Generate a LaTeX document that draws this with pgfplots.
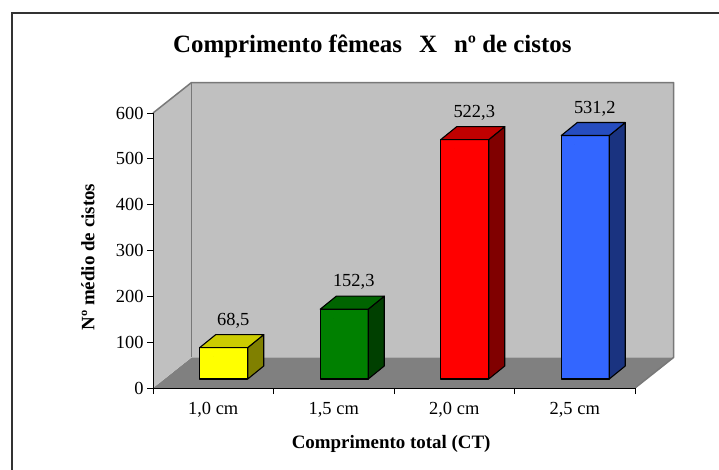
\documentclass[border=0pt]{standalone}
\usepackage{pgfplots}
\pgfplotsset{compat=1.18}
\usepackage{fontspec}
\setmainfont{Liberation Serif}
\definecolor{wallgray}{RGB}{192,192,192}
\definecolor{floorgray}{RGB}{128,128,128}
\definecolor{edgegray}{RGB}{120,120,120}
\definecolor{yfront}{RGB}{255,255,0}
\definecolor{yside}{RGB}{128,128,0}
\definecolor{ytop}{RGB}{204,204,0}
\definecolor{gfront}{RGB}{0,128,0}
\definecolor{gside}{RGB}{0,64,0}
\definecolor{gtop}{RGB}{0,100,0}
\definecolor{rfront}{RGB}{255,0,0}
\definecolor{rside}{RGB}{128,0,0}
\definecolor{rtop}{RGB}{192,0,0}
\definecolor{bfront}{RGB}{51,102,255}
\definecolor{bside}{RGB}{26,51,128}
\definecolor{btop}{RGB}{38,77,192}
\pgfplotsset{
  bar3d/.style n args={3}{
    only marks, scatter, mark=*, mark size=0pt,
    visualization depends on={rawy \as \barval},
    scatter/@pre marker code/.code={%
      \pgfmathsetmacro\barh{\barval*0.458333}%
      \filldraw[fill=#1, draw=black, line width=1.1bp, line join=round] (-13.5bp,{9bp-\barh bp}) rectangle (34.5bp,9bp);
      \filldraw[fill=#2, draw=black, line width=1.1bp, line join=round] (34.5bp,{9bp-\barh bp}) -- (50.5bp,{22bp-\barh bp}) -- (50.5bp,22bp) -- (34.5bp,9bp) -- cycle;
      \filldraw[fill=#3, draw=black, line width=1.1bp, line join=round] (-13.5bp,9bp) -- (34.5bp,9bp) -- (50.5bp,22bp) -- (2.5bp,22bp) -- cycle;
      \begin{scope}},
    scatter/@post marker code/.code={\end{scope}},
  },
  barlabel/.style={
    only marks, mark=none,
    nodes near coords={\pgfmathprintnumber[fixed,fixed zerofill,precision=1,use comma]{\pgfplotspointmeta}},
    every node near coord/.append style={anchor=center, xshift=20bp, yshift=36bp, text=black,
      font=\fontsize{18.5}{20}\selectfont},
  }
}
\begin{document}
\begin{tikzpicture}
\draw[line width=2bp, draw=black!80] (12bp,-20bp) -- (12bp,457bp) -- (740bp,457bp);
\begin{axis}[
  at={(153bp,82bp)}, anchor=south west,
  x=120.5bp, y=0.458333bp,
  xmin=0, xmax=4, ymin=0, ymax=600,
  clip=false, axis on top,
  axis x line*=bottom, axis y line*=left,
  axis line style={line width=1bp, black},
  tick style={line width=1bp, black},
  tick align=outside, major tick length=6bp,
  /pgf/number format/assume math mode=true,
  xtick={0,1,2,3,4}, xticklabels={},
  extra x ticks={0.5,1.5,2.5,3.5},
  extra x tick labels={{1,0 cm},{1,5 cm},{2,0 cm},{2,5 cm}},
  extra x tick style={major tick length=0pt, tick label style={yshift=-11bp}},
  ytick={0,100,...,600},
  ticklabel style={font=\fontsize{18.5}{20}\selectfont},
  title={Comprimento fêmeas\hspace{17bp}X\hspace{17bp}nº de cistos},
  title style={font=\bfseries\fontsize{25}{28}\selectfont, at={(axis description cs:0.455,1.222)}, anchor=center},
  xlabel={Comprimento total (CT)},
  ylabel={Nº médio de cistos},
  ylabel style={font=\bfseries\fontsize{19}{21}\selectfont, at={(axis description cs:-0.135,0.476)}, anchor=center},
  xlabel style={font=\bfseries\fontsize{19}{21}\selectfont, at={(axis description cs:0.494,-0.203)}, anchor=center},
]
\fill[floorgray] (0,0) -- (4,0) -- (4.3195,66.55) -- (0.3195,66.55) -- cycle;
\fill[wallgray] (0,0) -- (0.3195,66.55) -- (0.3195,666.55) -- (0,600) -- cycle;
\fill[wallgray] (0.3195,66.55) rectangle (4.3195,666.55);
\draw[edgegray, line width=1.5bp, line join=round] (0,600) -- (0.3195,666.55) -- (4.3195,666.55) -- (4.3195,66.55) -- (4,0);
\draw[edgegray, line width=1.5bp] (0.3195,666.55) -- (0.3195,66.55);
\addplot[bar3d={yfront}{yside}{ytop}] coordinates {(0.5,68.5)};
\addplot[bar3d={gfront}{gside}{gtop}] coordinates {(1.5,152.3)};
\addplot[bar3d={rfront}{rside}{rtop}] coordinates {(2.5,522.3)};
\addplot[bar3d={bfront}{bside}{btop}] coordinates {(3.5,531.2)};
\addplot[barlabel] coordinates {(0.5,68.5) (1.5,152.3) (2.5,522.3) (3.5,531.2)};
\end{axis}
\pgfresetboundingbox
\useasboundingbox (0,0) rectangle (719bp,470bp);
\end{tikzpicture}
\end{document}
